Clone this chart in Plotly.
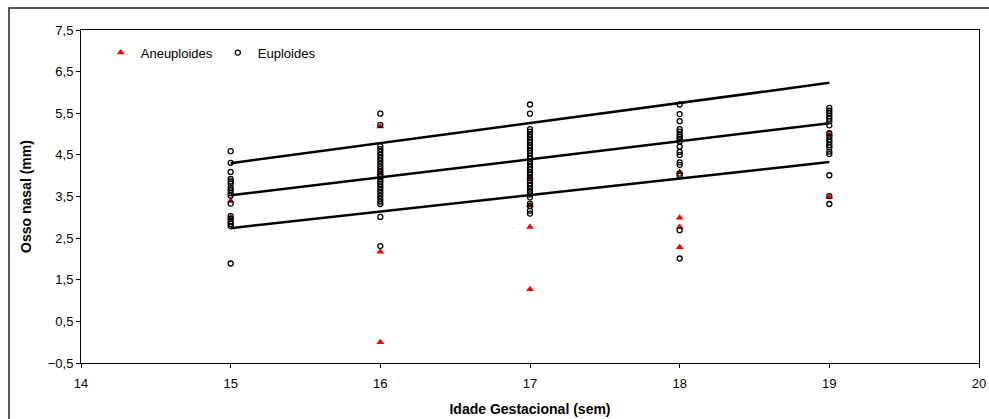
import plotly.graph_objects as go

# Gestational age (weeks) and nasal bone length (mm)
eup_15 = [4.59, 4.31, 4.09, 3.92, 3.86, 3.81, 3.71, 3.65, 3.58, 3.52, 3.33,
          3.03, 2.97, 2.89, 2.84, 2.79, 1.89]
eup_16 = [5.49, 5.22, 4.71, 4.64, 4.57, 4.50, 4.43, 4.36, 4.29, 4.22, 4.16,
          4.10, 4.04, 3.98, 3.92, 3.86, 3.80, 3.73, 3.66, 3.59, 3.52, 3.45,
          3.38, 3.32, 3.01, 2.31]
eup_17 = [5.71, 5.49, 5.12, 5.06, 4.99, 4.93, 4.86, 4.80, 4.73, 4.67, 4.60,
          4.54, 4.47, 4.41, 4.34, 4.28, 4.21, 4.15, 4.08, 4.02, 3.95, 3.89,
          3.82, 3.76, 3.69, 3.62, 3.55, 3.48, 3.33, 3.27, 3.16, 3.09]
eup_18 = [5.71, 5.48, 5.31, 5.12, 5.06, 4.99, 4.93, 4.88, 4.82, 4.70, 4.57,
          4.50, 4.32, 4.26, 4.05, 4.00, 2.69, 2.01]
eup_19 = [5.63, 5.56, 5.50, 5.43, 5.37, 5.31, 5.21, 5.02, 4.94, 4.87, 4.81,
          4.74, 4.68, 4.58, 4.52, 4.01, 3.51, 3.32]

aneu_x = [15, 15, 16, 16, 16, 16, 17, 17, 17, 17, 18, 18, 18, 18, 19, 19]
aneu_y = [3.39, 2.99, 5.18, 4.06, 2.17, 0.00, 3.95, 3.29, 2.77, 1.27,
          4.09, 2.99, 2.77, 2.28, 4.99, 3.48]

# Reference percentile lines (start at 15 weeks, end at 19 weeks)
line_x = [15, 19]
p_upper = [4.30, 6.23]
p_mid = [3.53, 5.26]
p_lower = [2.74, 4.33]

eup_x, eup_y = [], []
for wk, vals in zip([15, 16, 17, 18, 19], [eup_15, eup_16, eup_17, eup_18, eup_19]):
    eup_x += [wk] * len(vals)
    eup_y += vals

fig = go.Figure()

for ys in (p_upper, p_mid, p_lower):
    fig.add_trace(go.Scatter(x=line_x, y=ys, mode="lines", showlegend=False,
                             line=dict(color="black", width=2.5), hoverinfo="skip"))

fig.add_trace(go.Scatter(
    x=aneu_x, y=aneu_y, mode="markers", name="Aneuploides",
    marker=dict(symbol="triangle-up", size=7, color="#ff0000", line=dict(width=0)),
))
fig.add_trace(go.Scatter(
    x=eup_x, y=eup_y, mode="markers", name="Euploides",
    marker=dict(symbol="circle-open", size=5, color="black", line=dict(width=1.3, color="black")),
))

font = "Liberation Sans, Arial, sans-serif"

fig.update_layout(
    width=989, height=419,
    margin=dict(l=81, r=10, t=30, b=56, autoexpand=False),
    paper_bgcolor="white", plot_bgcolor="white",
    separators=",.",
    font=dict(family=font, size=13, color="black"),
    legend=dict(orientation="h", x=0.022, y=0.932, xanchor="left", yanchor="middle",
                bgcolor="rgba(0,0,0,0)", font=dict(size=13), itemwidth=30,
                traceorder="normal"),
    xaxis=dict(range=[14, 20], tick0=14, dtick=1, showgrid=False, zeroline=False,
               automargin=False,
               showline=True, linecolor="black", linewidth=1, mirror=True,
               ticks="outside", ticklen=4, tickcolor="black", ticklabelstandoff=4,
               title=dict(text="<b>Idade Gestacional (sem)</b>", standoff=14,
                          font=dict(size=14))),
    yaxis=dict(range=[-0.5, 7.5], tick0=-0.5, dtick=1, tickformat=".1f",
               showgrid=False, zeroline=False, automargin=False,
               showline=True, linecolor="black", linewidth=1, mirror=True,
               ticks="outside", ticklen=4, tickcolor="black",
               title=dict(text="<b>Osso nasal (mm)</b>", standoff=12,
                          font=dict(size=14))),
    shapes=[dict(type="rect", xref="paper", yref="paper",
                 x0=-0.0802, x1=1.2, y0=-0.4, y1=1.066,
                 line=dict(color="#222", width=1.5), layer="below")],
)

fig.write_html("out.html")
